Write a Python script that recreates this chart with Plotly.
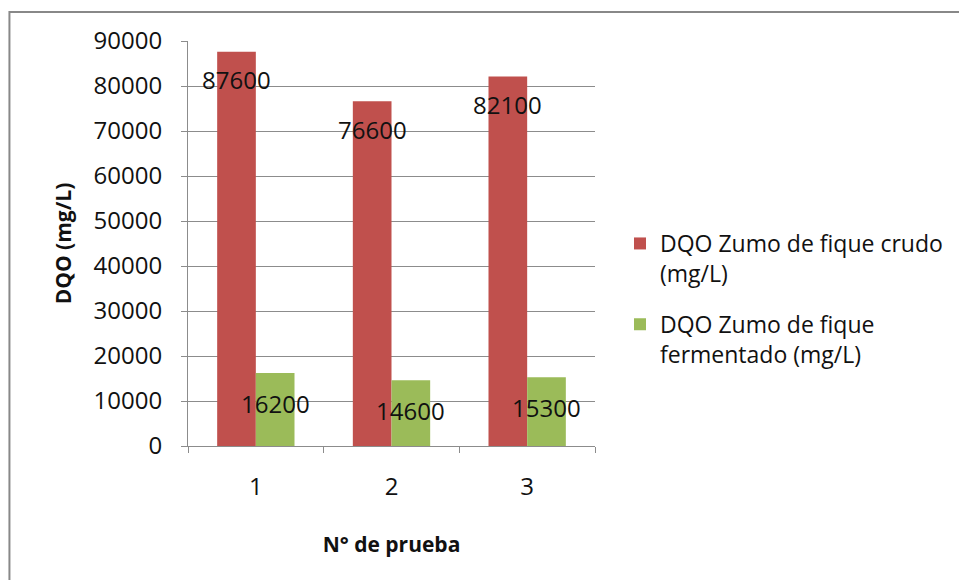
import plotly.graph_objects as go

categories = ["1", "2", "3"]
crudo = [87600, 76600, 82100]
fermentado = [16200, 14600, 15300]
name_crudo = "DQO Zumo de fique crudo<br>(mg/L)"
name_ferm = "DQO Zumo de fique<br>fermentado (mg/L)"

W, H = 959, 580
L, R, T, B = 188, 363, 41, 134
FONT = "Open Sans, Lato, sans-serif"
RED = "#C0504D"
GREEN = "#9BBB59"
GRID = "#8c8c8c"
TXT = "#111111"

fig = go.Figure()
fig.add_trace(go.Bar(x=categories, y=crudo, name=name_crudo, legendgroup="a",
                     marker=dict(color=RED, line=dict(width=0))))
fig.add_trace(go.Bar(x=categories, y=fermentado, name=name_ferm, legendgroup="b",
                     marker=dict(color=GREEN, line=dict(width=0))))

annotations = []
bar_px = (W - L - R) / len(categories) * (1 - 0.43) / 2
for i, v in enumerate(crudo):
    annotations.append(dict(x=i, y=v, xref="x", yref="y", text=str(v), showarrow=False,
                            xshift=-bar_px / 2, yshift=-28, font=dict(family=FONT, size=24, color=TXT)))
for i, v in enumerate(fermentado):
    annotations.append(dict(x=i, y=v, xref="x", yref="y", text=str(v), showarrow=False,
                            xshift=bar_px / 2, yshift=-30, font=dict(family=FONT, size=24, color=TXT)))

pw = W - L - R
ph = H - T - B
def px_x(p):
    return (p - L) / pw
def px_y(p):
    return 1 - (p - T) / ph

fig.update_layout(
    width=W, height=H,
    margin=dict(l=L, r=R, t=T, b=B),
    paper_bgcolor="white", plot_bgcolor="white",
    barmode="group", bargap=0.43, bargroupgap=0,
    font=dict(family=FONT, size=24, color=TXT),
    showlegend=True,
    legend=dict(x=px_x(620), y=px_y(222), xanchor="left", yanchor="top",
                font=dict(family=FONT, size=23, color=TXT), valign="top",
                tracegroupgap=18, itemwidth=30, traceorder="grouped"),
    annotations=annotations,
    shapes=[dict(type="rect", xref="paper", yref="paper",
                 x0=px_x(9), x1=px_x(970), y0=px_y(600), y1=px_y(12),
                 line=dict(color="#888888", width=2), fillcolor="rgba(0,0,0,0)", layer="below")],
)
fig.update_xaxes(
    type="category", range=[-0.5, 2.5], showline=True, linecolor=GRID, linewidth=1,
    ticks="outside", tickson="boundaries", ticklen=6, tickcolor=GRID,
    ticklabelstandoff=19, tickfont=dict(size=24),
    title=dict(text="<b>N° de prueba</b>", font=dict(size=21), standoff=36),
    showgrid=False,
)
fig.update_yaxes(
    range=[0, 90000], dtick=10000, showline=True, linecolor=GRID, linewidth=1,
    ticks="outside", ticklen=6, tickcolor=GRID, showgrid=True, gridcolor=GRID, gridwidth=1,
    tickformat="d", tickfont=dict(size=24), ticklabelstandoff=14,
    title=dict(text="<b>DQO (mg/L)</b>", font=dict(size=21), standoff=16),
    zeroline=False,
)

fig.write_html("out.html")
